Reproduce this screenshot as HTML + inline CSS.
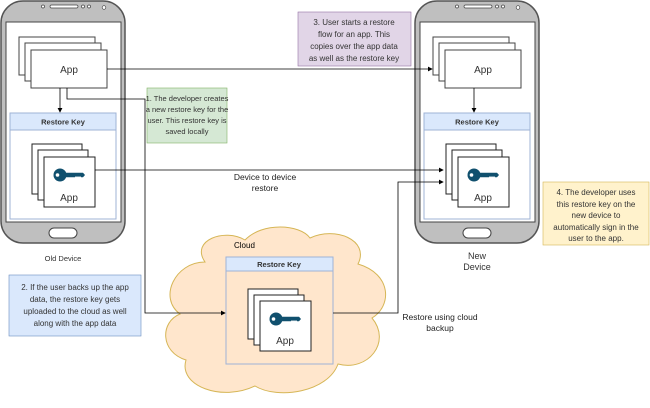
<!DOCTYPE html>
<html><head><style>body{margin:0;background:#fff}svg{display:block;font-family:"Liberation Sans",sans-serif}</style></head><body>
<svg width="650" height="408" viewBox="0 0 650 408">
<defs>
<marker id="a" markerWidth="6" markerHeight="6" refX="5" refY="3" orient="auto"><path d="M0,0L6,3L0,6z" fill="#000"/></marker>
<g id="key"><circle cx="0" cy="0" r="6.5" fill="#10506e"/><circle cx="-2.5" cy="0" r="1.8" fill="#fff"/><path d="M5,-2.2H23L25,0L23,2.2H21L20,1L19,2.2L18,1L17,2.2L16,1L15,2.2H5z" fill="#10506e"/></g>
</defs>
<path d="M205,262 C190,240 225,228 245,240 C262,222 300,224 310,238 C335,226 370,240 358,264 C392,274 392,306 372,318 C392,342 368,372 338,364 C328,392 278,400 255,386 C222,402 178,386 186,360 C160,352 160,322 180,314 C158,298 175,262 205,262Z" fill="#ffe6cc" stroke="#d6b656" stroke-width="1"/>
<text x="234" y="248" font-size="8">Cloud</text>
<g id="ph">
<rect x="1" y="1" width="124" height="242" rx="22" fill="#bfbfbf" stroke="#555" stroke-width="1.5"/>
<rect x="6" y="22" width="115" height="200" fill="#fff" stroke="#444"/>
<rect x="49" y="228" width="28" height="10" rx="5" fill="#fff" stroke="#444"/>
<rect x="50" y="5" width="28" height="3" rx="1.5" fill="#fff" stroke="#444" stroke-width="0.7"/>
<circle cx="43" cy="6.5" r="1.5" fill="#fff" stroke="#444" stroke-width="0.7"/><circle cx="83" cy="6.5" r="1.5" fill="#fff" stroke="#444" stroke-width="0.7"/><circle cx="89" cy="6.5" r="1.5" fill="#fff" stroke="#444" stroke-width="0.7"/><circle cx="104" cy="7.5" r="1.8" fill="#fff" stroke="#444" stroke-width="0.7"/>
<rect x="19" y="37" width="76" height="38" fill="#fff" stroke="#444"/>
<rect x="25" y="43" width="76" height="38" fill="#fff" stroke="#444"/>
<rect x="31" y="50" width="76" height="38" fill="#fff" stroke="#444"/>
<text x="69" y="73" font-size="10" text-anchor="middle" fill="#333">App</text>
<rect x="10" y="113" width="106" height="106" fill="#fff" stroke="#9fb3d6"/>
<rect x="10" y="113" width="106" height="17" fill="#dae8fc" stroke="#9fb3d6"/>
<text x="63" y="124.5" font-size="7.5" font-weight="bold" text-anchor="middle" fill="#333">Restore Key</text>
<rect x="32" y="144" width="50" height="50" fill="#fff" stroke="#222"/>
<rect x="38" y="150" width="50" height="50" fill="#fff" stroke="#222"/>
<rect x="44" y="157" width="51" height="50" fill="#fff" stroke="#222"/>
<use href="#key" x="60" y="175"/>
<text x="69" y="201" font-size="10" text-anchor="middle" fill="#333">App</text>
</g>
<use href="#ph" x="414"/>
<text x="63" y="261" font-size="7.5" text-anchor="middle" fill="#333">Old Device</text>
<text x="477" y="259" font-size="9" text-anchor="middle" fill="#333">New</text>
<text x="477" y="270" font-size="9" text-anchor="middle" fill="#333">Device</text>
<rect x="226" y="257" width="107" height="107" fill="#ffe6cc" stroke="#9fb3d6"/>
<rect x="226" y="257" width="107" height="14" fill="#dae8fc" stroke="#9fb3d6"/>
<text x="279" y="267" font-size="7.5" font-weight="bold" text-anchor="middle" fill="#333">Restore Key</text>
<rect x="248" y="289" width="50" height="50" fill="#fff" stroke="#222"/>
<rect x="254" y="295" width="50" height="50" fill="#fff" stroke="#222"/>
<rect x="260" y="301" width="51" height="50" fill="#fff" stroke="#222"/>
<use href="#key" x="276" y="319"/>
<text x="285" y="344" font-size="10" text-anchor="middle" fill="#333">App</text>
<g fill="none" stroke="#000" stroke-width="0.8">
<path d="M107,69H432" marker-end="url(#a)"/>
<path d="M60,88V112" marker-end="url(#a)"/>
<path d="M67,88V99H145V313H225" marker-end="url(#a)"/>
<path d="M95,170H443" marker-end="url(#a)"/>
<path d="M333,313H398V182H443" marker-end="url(#a)"/>
<path d="M474,88V112" marker-end="url(#a)"/>
</g>
<rect x="230" y="171" width="70" height="22" fill="#fff"/>
<text font-size="8.5" text-anchor="middle" fill="#222"><tspan x="265" y="180">Device to device</tspan><tspan x="265" y="191">restore</tspan></text>
<text font-size="8.5" text-anchor="middle" fill="#222"><tspan x="440" y="320">Restore using cloud</tspan><tspan x="440" y="331">backup</tspan></text>
<rect x="147" y="88" width="80" height="55" fill="#d5e8d4" stroke="#82b366" stroke-width="0.6"/>
<text font-size="7.5" text-anchor="middle" fill="#333"><tspan x="187" y="101">1. The developer creates</tspan><tspan x="187" y="112">a new restore key for the</tspan><tspan x="187" y="123">user. This restore key is</tspan><tspan x="187" y="134">saved locally</tspan></text>
<rect x="298" y="12" width="113" height="54" fill="#e1d5e7" stroke="#9673a6" stroke-width="0.6"/>
<text font-size="8" text-anchor="middle" fill="#333"><tspan x="354" y="25">3. User starts a restore</tspan><tspan x="354" y="37">flow for an app. This</tspan><tspan x="354" y="49">copies over the app data</tspan><tspan x="354" y="61">as well as the restore key</tspan></text>
<rect x="543" y="182" width="106" height="63" fill="#fff2cc" stroke="#d6b656" stroke-width="0.6"/>
<text font-size="8" text-anchor="middle" fill="#333"><tspan x="596" y="195">4. The developer uses</tspan><tspan x="596" y="207">this restore key on the</tspan><tspan x="596" y="218">new device to</tspan><tspan x="596" y="230">automatically sign in the</tspan><tspan x="596" y="241">user to the app.</tspan></text>
<rect x="9" y="275" width="132" height="61" fill="#dae8fc" stroke="#6c8ebf" stroke-width="0.6"/>
<text font-size="8" text-anchor="middle" fill="#333"><tspan x="75" y="290">2. If the user backs up the app</tspan><tspan x="75" y="302">data, the restore key gets</tspan><tspan x="75" y="314">uploaded to the cloud as well</tspan><tspan x="75" y="326">along with the app data</tspan></text>
</svg>
</body></html>
